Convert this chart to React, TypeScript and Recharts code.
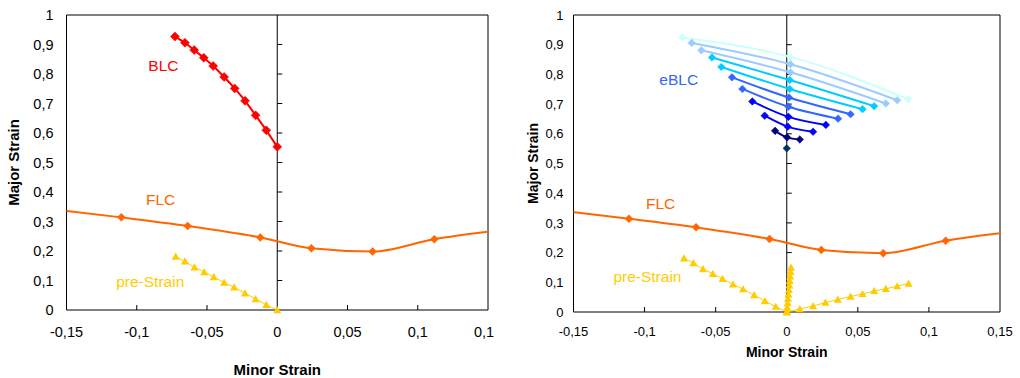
import React from 'react';
import { ComposedChart, Line, XAxis, YAxis, ReferenceLine, ReferenceArea, ReferenceDot } from 'recharts';

const FONT = '"Liberation Sans", Arial, sans-serif';

// axis ticks
const xTicks = [-0.15, -0.1, -0.05, 0, 0.05, 0.1, 0.15];
const yTicks = [0, 0.1, 0.2, 0.3, 0.4, 0.5, 0.6, 0.7, 0.8, 0.9, 1];
const xInnerTicks = [-0.1, -0.05, 0.05, 0.1];
const yInnerTicks = [0.1, 0.2, 0.3, 0.4, 0.5, 0.6, 0.7, 0.8, 0.9];

// BLC
const blcX = [-0.0728, -0.0657, -0.0591, -0.0523, -0.0456, -0.0378, -0.0303, -0.0229, -0.0154, -0.0078, 0];
const blcY = [0.927, 0.906, 0.881, 0.855, 0.827, 0.79, 0.751, 0.709, 0.66, 0.609, 0.553];

// FLC
const flcLineX = [-0.15, -0.111, -0.0638, -0.0121, 0.0243, 0.0679, 0.1118, 0.15];
const flcLineY = [0.336, 0.314, 0.285, 0.246, 0.209, 0.198, 0.24, 0.265];
const flcMarkX = [-0.111, -0.0638, -0.0121, 0.0243, 0.0679, 0.1118];
const flcMarkY = [0.314, 0.285, 0.246, 0.209, 0.198, 0.24];

// pre-strain paths
const preUniX = [-0.0723, -0.0657, -0.0589, -0.052, -0.0452, -0.0378, -0.0307, -0.0229, -0.0154, -0.0078, 0];
const preUniY = [0.181, 0.165, 0.145, 0.129, 0.112, 0.093, 0.077, 0.057, 0.037, 0.018, 0];
const prePlaneX = [0, 0.0003, 0.0006, 0.0009, 0.0012, 0.0015, 0.0018, 0.0021, 0.0024, 0.0027, 0.003];
const prePlaneY = [0, 0.015, 0.03, 0.045, 0.06, 0.075, 0.09, 0.105, 0.12, 0.135, 0.15];
const preBiaxX = [0, 0.0092, 0.0185, 0.0272, 0.0359, 0.0449, 0.0533, 0.0615, 0.0697, 0.0777, 0.0857];
const preBiaxY = [0, 0.01, 0.02, 0.032, 0.042, 0.052, 0.061, 0.071, 0.078, 0.087, 0.096];

// eBLC curves (left, middle, right points)
const ebLeftX = [-0.0735, -0.0669, -0.0601, -0.0526, -0.046, -0.0385, -0.0312, -0.0242, -0.0155, -0.0082];
const ebLeftY = [0.924, 0.906, 0.881, 0.857, 0.825, 0.79, 0.751, 0.709, 0.661, 0.61];
const ebMidX = [0.0026, 0.0026, 0.0026, 0.0021, 0.0021, 0.0016, 0.0012, 0.0012, 0.0007, 0.0002];
const ebMidY = [0.859, 0.834, 0.807, 0.781, 0.751, 0.722, 0.691, 0.657, 0.624, 0.588];
const ebRightX = [0.0855, 0.0777, 0.0697, 0.0615, 0.0533, 0.0449, 0.0361, 0.0275, 0.0185, 0.0092];
const ebRightY = [0.716, 0.713, 0.702, 0.693, 0.683, 0.666, 0.651, 0.63, 0.607, 0.581];
const ebColors = ['#CCFFFF', '#99CCFF', '#99CCFF', '#00CCFF', '#00CCFF', '#3366FF', '#3366FF', '#0000FF', '#0000FF', '#000080'];
const ebLastX = [0];
const ebLastY = [0.551];

const toPts = (xs: number[], ys: number[]) => xs.map((x, i) => ({ x, y: ys[i] }));
const fmt = (v: number) => String(v).replace('.', ',');

const diamond = (s: number, color: string) => (p: any) => {
  const { cx, cy, index } = p;
  if (cx == null || cy == null) return <g key={`d${index}`} />;
  return (
    <polygon
      key={`d${index}`}
      points={`${cx},${cy - s} ${cx + s},${cy} ${cx},${cy + s} ${cx - s},${cy}`}
      fill={color}
      stroke={color}
      strokeWidth={0.5}
    />
  );
};

const triangle = (s: number, color: string) => (p: any) => {
  const { cx, cy, index } = p;
  if (cx == null || cy == null) return <g key={`t${index}`} />;
  return (
    <polygon
      key={`t${index}`}
      points={`${cx},${cy - s} ${cx + s},${cy + s * 0.8} ${cx - s},${cy + s * 0.8}`}
      fill={color}
    />
  );
};

const hTick = (p: any) => {
  const { cx, cy, index } = p;
  if (cx == null || cy == null) return <g key={`h${index}`} />;
  return <line key={`h${index}`} x1={cx} y1={cy} x2={cx + 5} y2={cy} stroke="#000" strokeWidth={1} />;
};
const vTick = (p: any) => {
  const { cx, cy, index } = p;
  if (cx == null || cy == null) return <g key={`v${index}`} />;
  return <line key={`v${index}`} x1={cx} y1={cy} x2={cx} y2={cy - 5} stroke="#000" strokeWidth={1} />;
};

const yTitle = (offsetX: number, fs: number) => ({
  content: (p: any) => {
    const vb = p.viewBox || {};
    const cx = (vb.x ?? 0) + offsetX;
    const cy = (vb.y ?? 0) + (vb.height ?? 0) / 2;
    return (
      <text x={cx} y={cy} transform={`rotate(-90 ${cx} ${cy})`} textAnchor="middle" dominantBaseline="central"
        fontWeight="bold" fontSize={fs} fill="#000" fontFamily={FONT}>Major Strain</text>
    );
  },
});

const xTitle = (dy: number, fs: number) => ({
  content: (p: any) => {
    const vb = p.viewBox || {};
    const cx = (vb.x ?? 0) + (vb.width ?? 0) / 2;
    const cy = (vb.y ?? 0) + dy;
    return (
      <text x={cx} y={cy} textAnchor="middle" dominantBaseline="central"
        fontWeight="bold" fontSize={fs} fill="#000" fontFamily={FONT}>Minor Strain</text>
    );
  },
});

const frameElements = (prefix: string) => [
  <ReferenceArea key={prefix + 'frame'} x1={-0.15} x2={0.15} y1={0} y2={1} fill="none" stroke="#000" strokeWidth={1} fillOpacity={0} />,
  <ReferenceLine key={prefix + 'zero'} x={0} stroke="#000" strokeWidth={1} />,
  <Line key={prefix + 'ht'} data={toPts(yInnerTicks.map(() => 0), yInnerTicks)} dataKey="y" stroke="none" dot={hTick}
    activeDot={false} isAnimationActive={false} legendType="none" />,
  <Line key={prefix + 'vt'} data={toPts(xInnerTicks, xInnerTicks.map(() => 0))} dataKey="y" stroke="none" dot={vTick}
    activeDot={false} isAnimationActive={false} legendType="none" />,
];

const textLabel = (key: string, x: number, y: number, value: string, color: string, fs: number) => (
  <ReferenceDot key={key} x={x} y={y} r={1} fill="none" stroke="none"
    label={{ value, position: 'center', fill: color, fontSize: fs, fontFamily: FONT }} />
);

function LeftChart() {
  return (
    <ComposedChart width={520} height={378} margin={{ top: 15, right: 32, bottom: 8, left: 0 }}>
      <XAxis type="number" dataKey="x" domain={[-0.15, 0.15]} ticks={xTicks} interval={0} tickFormatter={fmt}
        axisLine={false} tickLine={false} tickSize={6} tickMargin={11} height={60}
        tick={{ fill: '#000', fontSize: 14.5, fontFamily: FONT }} label={xTitle(59, 15)} />
      <YAxis type="number" domain={[0, 1]} ticks={yTicks} interval={0} tickFormatter={fmt}
        axisLine={false} tickLine={false} tickSize={6} tickMargin={7} width={66.5}
        tick={{ fill: '#000', fontSize: 14.5, fontFamily: FONT }} label={yTitle(13, 15)} />
      {frameElements('l')}
      <Line data={toPts(flcLineX, flcLineY)} dataKey="y" type="monotone" stroke="#FF6600" strokeWidth={2}
        dot={false} activeDot={false} isAnimationActive={false} />
      <Line data={toPts(flcMarkX, flcMarkY)} dataKey="y" stroke="none" dot={diamond(4, '#FF6600')}
        activeDot={false} isAnimationActive={false} />
      <Line data={toPts(blcX, blcY)} dataKey="y" type="monotone" stroke="#FF0000" strokeWidth={2}
        dot={diamond(4.5, '#FF0000')} activeDot={false} isAnimationActive={false} />
      <Line data={toPts(preUniX, preUniY)} dataKey="y" stroke="#FFCC00" strokeWidth={1}
        dot={triangle(4, '#FFCC00')} activeDot={false} isAnimationActive={false} />
      {textLabel('lb', -0.081, 0.83, 'BLC', '#FF0000', 15.5)}
      {textLabel('lf', -0.083, 0.373, 'FLC', '#FF6600', 15.5)}
      {textLabel('lp', -0.0904, 0.098, 'pre-Strain', '#FFCC00', 15.5)}
    </ComposedChart>
  );
}

function RightChart() {
  return (
    <ComposedChart width={526} height={378} margin={{ top: 15, right: 20, bottom: 8, left: 0 }}>
      <XAxis type="number" dataKey="x" domain={[-0.15, 0.15]} ticks={xTicks} interval={0} tickFormatter={fmt}
        axisLine={false} tickLine={false} tickSize={6} tickMargin={9} height={58}
        tick={{ fill: '#000', fontSize: 13, fontFamily: FONT }} label={xTitle(40, 14)} />
      <YAxis type="number" domain={[0, 1]} ticks={yTicks} interval={0} tickFormatter={fmt}
        axisLine={false} tickLine={false} tickSize={6} tickMargin={4} width={79.5}
        tick={{ fill: '#000', fontSize: 13, fontFamily: FONT }} label={yTitle(39, 14)} />
      {frameElements('r')}
      <Line data={toPts(flcLineX, flcLineY)} dataKey="y" type="monotone" stroke="#FF6600" strokeWidth={2}
        dot={false} activeDot={false} isAnimationActive={false} />
      <Line data={toPts(flcMarkX, flcMarkY)} dataKey="y" stroke="none" dot={diamond(4, '#FF6600')}
        activeDot={false} isAnimationActive={false} />
      <Line data={toPts(preUniX, preUniY)} dataKey="y" stroke="#FFCC00" strokeWidth={1}
        dot={triangle(4, '#FFCC00')} activeDot={false} isAnimationActive={false} />
      <Line data={toPts(preBiaxX, preBiaxY)} dataKey="y" stroke="#FFCC00" strokeWidth={1}
        dot={triangle(4, '#FFCC00')} activeDot={false} isAnimationActive={false} />
      <Line data={toPts(prePlaneX, prePlaneY)} dataKey="y" stroke="#FFCC00" strokeWidth={1}
        dot={triangle(4, '#FFCC00')} activeDot={false} isAnimationActive={false} />
      {ebColors.map((c, i) => (
        <Line key={'eb' + i}
          data={[{ x: ebLeftX[i], y: ebLeftY[i] }, { x: ebMidX[i], y: ebMidY[i] }, { x: ebRightX[i], y: ebRightY[i] }]}
          dataKey="y" type="monotone" stroke={c} strokeWidth={2}
          dot={diamond(3.8, c)} activeDot={false} isAnimationActive={false} />
      ))}
      <Line data={toPts(ebLastX, ebLastY)} dataKey="y" stroke="none" dot={diamond(3.8, '#003366')}
        activeDot={false} isAnimationActive={false} />
      {textLabel('rb', -0.076, 0.784, 'eBLC', '#3366FF', 15.5)}
      {textLabel('rf', -0.0887, 0.367, 'FLC', '#FF6600', 15.5)}
      {textLabel('rp', -0.098, 0.12, 'pre-Strain', '#FFCC00', 15.5)}
    </ComposedChart>
  );
}

export default function App() {
  return (
    <div style={{ position: 'absolute', left: 0, top: 0, width: 1020, height: 378, background: '#fff', fontFamily: FONT, overflow: 'hidden' }}>
      <div style={{ position: 'absolute', left: 0, top: 0, width: 494, height: 378, overflow: 'hidden' }}>
        <LeftChart />
      </div>
      <div style={{ position: 'absolute', left: 494, top: 0, width: 526, height: 378, overflow: 'hidden' }}>
        <RightChart />
      </div>
    </div>
  );
}
